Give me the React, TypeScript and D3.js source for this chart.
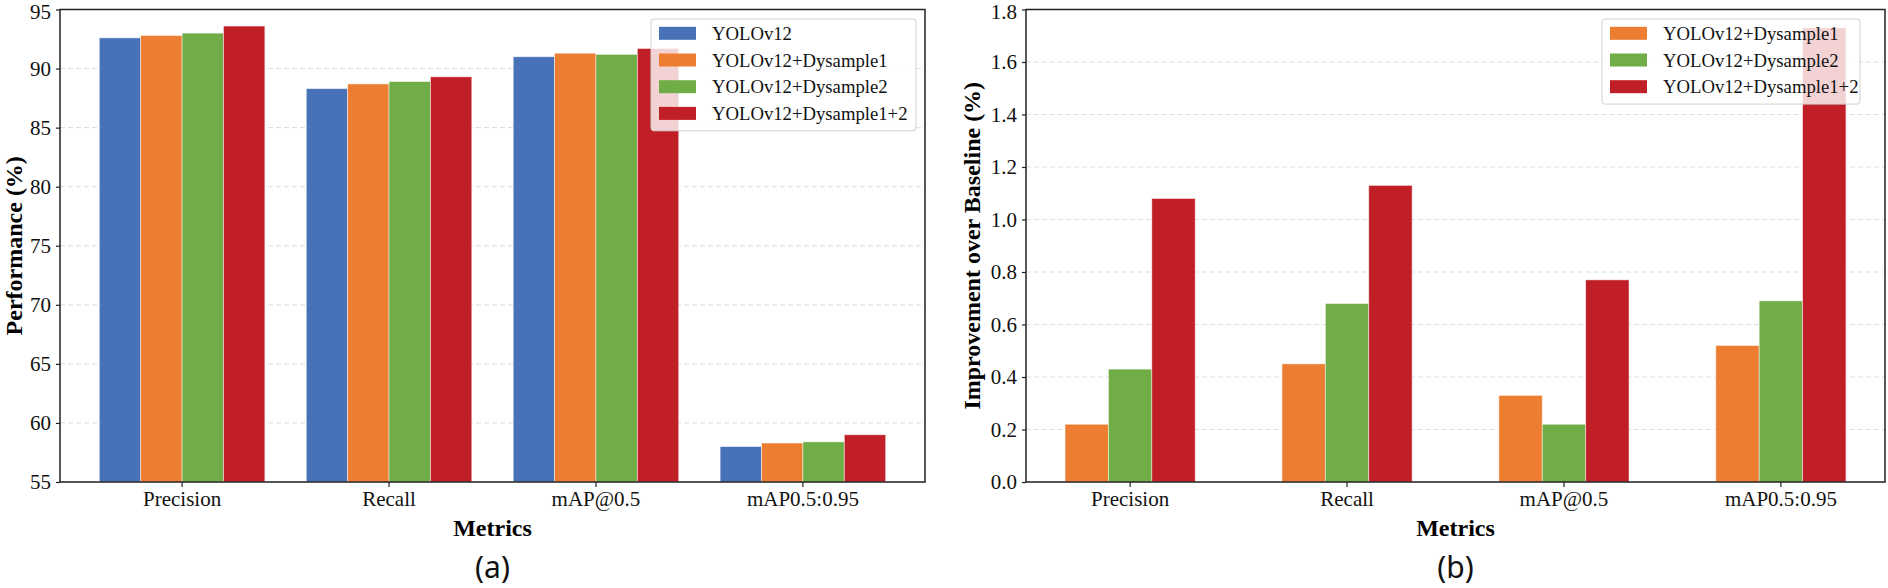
import { useEffect, useRef } from "react";
import * as d3 from "d3";

const metrics = ["Precision", "Recall", "mAP@0.5", "mAP0.5:0.95"];
const models = ["YOLOv12", "YOLOv12+Dysample1", "YOLOv12+Dysample2", "YOLOv12+Dysample1+2"];
const colors = ["#4772B8", "#ED7D31", "#70AD47", "#C11F28"];

// (a) absolute performance
const yolov12 = [92.6, 88.3, 91.0, 58.0];
const dysample1 = [92.8, 88.7, 91.3, 58.3];
const dysample2 = [93.0, 88.9, 91.2, 58.4];
const dysample12 = [93.6, 89.3, 91.7, 59.0];
const perfTicks = [55, 60, 65, 70, 75, 80, 85, 90, 95];

// (b) improvement over the baseline
const impDysample1 = [0.22, 0.45, 0.33, 0.52];
const impDysample2 = [0.43, 0.68, 0.22, 0.69];
const impDysample12 = [1.08, 1.13, 0.77, 1.73];
const impTicks = [0.0, 0.2, 0.4, 0.6, 0.8, 1.0, 1.2, 1.4, 1.6, 1.8];

const SERIF = "'Liberation Serif', 'Times New Roman', serif";

interface Series {
  name: string;
  color: string;
  values: number[];
}

interface Panel {
  left: number;
  right: number;
  top: number;
  bottom: number;
  ticks: number[];
  fmt: (d: number) => string;
  series: Series[];
  padInner: number;
  padOuter: number;
  yLabel: string;
  yLabelX: number;
  caption: string;
  legendX: number;
  legendW: number;
}

function drawPanel(svg: d3.Selection<SVGSVGElement, unknown, null, undefined>, p: Panel) {
  const g = svg.append("g");

  const x0 = d3.scaleBand<string>().domain(metrics).range([p.left, p.right]).paddingInner(p.padInner).paddingOuter(p.padOuter);
  const x1 = d3.scaleBand<string>().domain(p.series.map((s) => s.name)).range([0, x0.bandwidth()]);
  const yMax = p.ticks[p.ticks.length - 1];
  const y = d3.scaleLinear().domain([p.ticks[0], yMax]).range([p.bottom, p.top]);

  // grid
  g.append("g")
    .selectAll("line")
    .data(p.ticks)
    .enter()
    .append("line")
    .attr("x1", p.left)
    .attr("x2", p.right)
    .attr("y1", (d) => y(d))
    .attr("y2", (d) => y(d))
    .attr("stroke", "#dcdcdc")
    .attr("stroke-width", 1)
    .attr("stroke-dasharray", "5,3");

  // bars
  p.series.forEach((s) => {
    g.append("g")
      .selectAll("rect")
      .data(s.values)
      .enter()
      .append("rect")
      .attr("x", (_, i) => (x0(metrics[i]) ?? 0) + (x1(s.name) ?? 0))
      .attr("y", (d) => y(d))
      .attr("width", x1.bandwidth())
      .attr("height", (d) => p.bottom - y(d))
      .attr("fill", s.color)
      .attr("stroke", "white")
      .attr("stroke-opacity", 0.6)
      .attr("stroke-width", 0.8);
  });

  // axes
  const yAxis = g
    .append("g")
    .attr("transform", `translate(${p.left},0)`)
    .call(d3.axisLeft(y).tickValues(p.ticks).tickFormat((d) => p.fmt(+d)).tickSize(4).tickPadding(5).tickSizeOuter(0));
  const xAxis = g
    .append("g")
    .attr("transform", `translate(0,${p.bottom})`)
    .call(d3.axisBottom(x0).tickSize(5).tickPadding(4).tickSizeOuter(0));
  [yAxis, xAxis].forEach((a) => {
    a.select(".domain").remove();
    a.attr("font-family", SERIF).attr("font-size", 21);
    a.selectAll("text").attr("fill", "#111");
    a.selectAll("line").attr("stroke", "#222").attr("stroke-width", 1.2);
  });
  // the top label sits a little low, as in the original
  yAxis
    .selectAll<SVGGElement, number>(".tick")
    .filter((d) => d === yMax)
    .select("text")
    .attr("dy", "0.45em");

  // frame
  g.append("rect")
    .attr("x", p.left)
    .attr("y", p.top)
    .attr("width", p.right - p.left)
    .attr("height", p.bottom - p.top)
    .attr("fill", "none")
    .attr("stroke", "#222")
    .attr("stroke-width", 1.5);

  // legend
  const rowH = 26.7;
  const lg = g.append("g").attr("transform", `translate(${p.legendX},19)`);
  lg.append("rect")
    .attr("width", p.legendW)
    .attr("height", p.series.length * rowH + 5)
    .attr("rx", 3)
    .attr("fill", "white")
    .attr("fill-opacity", 0.8)
    .attr("stroke", "#d0d0d0")
    .attr("stroke-width", 1);
  const items = lg
    .selectAll("g.item")
    .data(p.series)
    .enter()
    .append("g")
    .attr("class", "item")
    .attr("transform", (_, i) => `translate(8,${14.3 + i * rowH})`);
  items
    .append("rect")
    .attr("y", -6.5)
    .attr("width", 37)
    .attr("height", 13)
    .attr("fill", (d) => d.color);
  items
    .append("text")
    .attr("x", 53)
    .attr("y", 6.5)
    .attr("font-family", SERIF)
    .attr("font-size", 18.7)
    .attr("fill", "#111")
    .text((d) => d.name);

  // labels
  const cx = (p.left + p.right) / 2;
  g.append("text")
    .attr("x", cx)
    .attr("y", 536)
    .attr("text-anchor", "middle")
    .attr("font-family", SERIF)
    .attr("font-weight", "bold")
    .attr("font-size", 24)
    .text("Metrics");
  g.append("text")
    .attr("transform", `translate(${p.yLabelX},${(p.top + p.bottom) / 2}) rotate(-90)`)
    .attr("text-anchor", "middle")
    .attr("dominant-baseline", "central")
    .attr("font-family", SERIF)
    .attr("font-weight", "bold")
    .attr("font-size", 24)
    .text(p.yLabel);
  g.append("text")
    .attr("x", cx)
    .attr("y", 578)
    .attr("text-anchor", "middle")
    .attr("font-family", "'Noto Sans', sans-serif")
    .attr("font-size", 30)
    .attr("fill", "#111")
    .text(p.caption);
}

const App = () => {
  const ref = useRef<SVGSVGElement | null>(null);

  useEffect(() => {
    if (!ref.current) return;
    const svg = d3.select(ref.current);
    svg.selectAll("*").remove();

    drawPanel(svg, {
      left: 60,
      right: 925,
      top: 9.5,
      bottom: 482,
      ticks: perfTicks,
      fmt: (d) => String(d),
      series: [
        { name: models[0], color: colors[0], values: yolov12 },
        { name: models[1], color: colors[1], values: dysample1 },
        { name: models[2], color: colors[2], values: dysample2 },
        { name: models[3], color: colors[3], values: dysample12 },
      ],
      padInner: 0.2,
      padOuter: 0.19,
      yLabel: "Performance (%)",
      yLabelX: 14,
      caption: "(a)",
      legendX: 651,
      legendW: 265,
    });

    drawPanel(svg, {
      left: 1026,
      right: 1885,
      top: 9.5,
      bottom: 482,
      ticks: impTicks,
      fmt: (d) => d.toFixed(1),
      series: [
        { name: models[1], color: colors[1], values: impDysample1 },
        { name: models[2], color: colors[2], values: impDysample2 },
        { name: models[3], color: colors[3], values: impDysample12 },
      ],
      padInner: 0.4,
      padOuter: 0.18,
      yLabel: "Improvement over Baseline (%)",
      yLabelX: 972,
      caption: "(b)",
      legendX: 1602,
      legendW: 258,
    });
  }, []);

  return (
    <svg
      ref={ref}
      width={1888}
      height={588}
      style={{ position: "absolute", left: 0, top: 0, display: "block", background: "white" }}
    />
  );
};

export default App;
